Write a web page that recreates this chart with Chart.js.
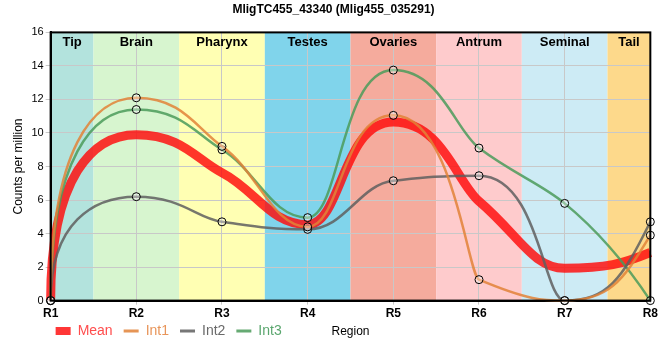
<!DOCTYPE html>
<html>
<head>
<meta charset="utf-8">
<script src="https://cdn.jsdelivr.net/npm/chart.js@4"></script>
<style>
  body { margin: 0; background: #fff; }
  #wrap { width: 660px; height: 360px; }
</style>
</head>
<body>
<div id="wrap"><canvas id="myChart" width="660" height="360"></canvas></div>
<script>
// dados
var labels = ['R1', 'R2', 'R3', 'R4', 'R5', 'R6', 'R7', 'R8'];
var regions = ['Tip', 'Brain', 'Pharynx', 'Testes', 'Ovaries', 'Antrum', 'Seminal', 'Tail'];
var mean = [0, 9.9, 7.63, 4.53, 10.65, 5.93, 1.93, 2.87];
var int1 = [0, 12.1, 9.2, 4.4, 11.05, 1.25, 0, 3.9];
var int2 = [0, 6.2, 4.7, 4.25, 7.15, 7.45, 0, 4.7];
var int3 = [0, 11.4, 9.0, 4.95, 13.75, 9.1, 5.8, 0];
var yTicks = [0, 2, 4, 6, 8, 10, 12, 14, 16];

var regionColors = ['#b3e3dd', '#d7f5cf', '#ffffb3', '#80d4eb', '#f5ab9d', '#fecbcc', '#cdebf5', '#fdd98b'];
var FONT = "'Liberation Sans', Arial, sans-serif";

// fundo com as regioes
var bandsPlugin = {
  id: 'bands',
  afterLayout: function (chart) {
    // legenda um pouco mais para a esquerda/cima, como no original
    chart.legend.left = chart.chartArea.left - 6;
    chart.legend.top = 313;
  },
  beforeDraw: function (chart) {
    var c = chart.ctx, a = chart.chartArea, x = chart.scales.x;
    c.save();
    regions.forEach(function (name, i) {
      var x0 = Math.max(a.left, x.getPixelForValue(i - 0.5));
      var x1 = Math.min(a.right, x.getPixelForValue(i + 0.5));
      c.fillStyle = regionColors[i];
      c.fillRect(x0, a.top, x1 - x0, a.bottom - a.top);
    });
    c.restore();
  },
  afterDraw: function (chart) {
    var c = chart.ctx, a = chart.chartArea, x = chart.scales.x;
    c.save();
    c.font = 'bold 13px ' + FONT;
    c.fillStyle = '#000';
    c.textAlign = 'center';
    c.textBaseline = 'middle';
    regions.forEach(function (name, i) {
      var x0 = Math.max(a.left, x.getPixelForValue(i - 0.5));
      var x1 = Math.min(a.right, x.getPixelForValue(i + 0.5));
      c.fillText(name, (x0 + x1) / 2, a.top + 10);
    });
    // moldura
    c.strokeStyle = '#000';
    c.lineWidth = 2;
    c.strokeRect(a.left, a.top, a.right - a.left, a.bottom - a.top);
    // titulo do eixo x, na mesma linha da legenda
    c.font = '12px ' + FONT;
    c.fillText('Region', (a.left + a.right) / 2, 332);
    c.restore();
  }
};

// curvas com "patamares" nos pontos (pontos de controle proprios)
var curvePlugin = {
  id: 'curves',
  beforeDatasetDraw: function (chart, args) {
    var meta = args.meta, pts = meta.data;
    var v = chart.data.datasets[args.index].data;
    var xs = chart.scales.x, ys = chart.scales.y;
    var n = v.length, d = [], m = [], i;
    for (i = 0; i < n - 1; i++) d.push(v[i + 1] - v[i]);
    for (i = 1; i < n - 1; i++) {
      m[i] = d[i - 1] * d[i] <= 0 ? 0 : 2 / (1 / d[i - 1] + 1 / d[i]);
    }
    m[n - 1] = 2.2 * d[n - 2] - 1.2 * m[n - 2];
    if (m[n - 1] * d[n - 2] < 0) m[n - 1] = 0;
    function base(k) { return m[k] === 0 ? 0.5 : 1 / 3; }
    for (i = 0; i < n - 1; i++) {
      var lo = Math.min(v[i], v[i + 1]), hi = Math.max(v[i], v[i + 1]);
      var s = hi + lo > 0 ? (hi - lo) / (hi + lo) : 0;
      var hA = base(i), hB = base(i + 1);
      if (i > 0 && i < n - 2) {
        if (v[i] > v[i + 1]) { hA += 0.25 * s; hB -= 0.25 * s; }
        else { hA -= 0.25 * s; hB += 0.25 * s; }
      }
      hA = Math.min(0.7, Math.max(0.08, hA));
      hB = Math.min(0.7, Math.max(0.08, hB));
      var ax, ay;
      if (i === 0) { ax = 0; ay = v[0] + 0.75 * d[0]; }
      else { ax = i + hA; ay = v[i] + hA * m[i]; }
      var bx = i + 1 - hB, by = v[i + 1] - hB * m[i + 1];
      ay = Math.min(hi, Math.max(lo, ay));
      by = Math.min(hi, Math.max(lo, by));
      pts[i].cp2x = xs.getPixelForValue(ax);
      pts[i].cp2y = ys.getPixelForValue(ay);
      pts[i + 1].cp1x = xs.getPixelForValue(bx);
      pts[i + 1].cp1y = ys.getPixelForValue(by);
    }
    pts[0].cp1x = pts[0].x; pts[0].cp1y = pts[0].y;
    pts[n - 1].cp2x = pts[n - 1].x; pts[n - 1].cp2y = pts[n - 1].y;
    meta.dataset._pointsUpdated = true;
    meta.dataset._path = undefined;
  }
};

function lineSet(label, data, color, width, marker) {
  return {
    label: label,
    data: data,
    borderColor: color,
    borderWidth: width,
    fill: false,
    cubicInterpolationMode: 'monotone',
    pointRadius: marker ? 4 : 0,
    pointBorderColor: '#000',
    pointBorderWidth: 1,
    pointBackgroundColor: 'rgba(255,255,255,0.35)',
    clip: false
  };
}

var legendColors = ['#ff4d4d', '#e8955a', '#6a6a6a', '#5aa66e'];

var ctx = document.getElementById('myChart');
var myChart = new Chart(ctx, {
  type: 'line',
  data: {
    labels: labels,
    datasets: [
      lineSet('Int1', int1, 'rgba(226,130,55,0.85)', 2.5, true),
      lineSet('Int2', int2, 'rgba(95,95,95,0.85)', 2.5, true),
      lineSet('Int3', int3, 'rgba(75,155,90,0.85)', 2.5, true),
      lineSet('Mean', mean, 'rgba(255,10,10,0.82)', 9, false)
    ]
  },
  plugins: [bandsPlugin, curvePlugin],
  options: {
    responsive: false,
    animation: false,
    layout: { padding: { left: 11, right: 4, top: 0, bottom: 2 } },
    plugins: {
      title: {
        display: true,
        text: 'MligTC455_43340 (Mlig455_035291)',
        color: '#000',
        font: { family: FONT, size: 12, weight: 'bold' },
        padding: { top: 2, bottom: 16 }
      },
      legend: {
        position: 'bottom',
        align: 'start',
        fullSize: false,
        labels: {
          usePointStyle: true,
          pointStyleWidth: 15,
          padding: 11,
          font: { family: FONT, size: 14 },
          generateLabels: function (chart) {
            var order = [3, 0, 1, 2];
            return order.map(function (di, k) {
              var ds = chart.data.datasets[di];
              return {
                text: ds.label,
                datasetIndex: di,
                strokeStyle: ds.borderColor,
                fillStyle: ds.borderColor,
                lineWidth: di === 3 ? 8 : 3,
                pointStyle: 'line',
                fontColor: legendColors[k],
                hidden: false
              };
            });
          }
        }
      },
      tooltip: { enabled: false }
    },
    scales: {
      x: {
        grid: { color: '#c8c8c8', tickLength: 4, drawOnChartArea: true },
        border: { color: '#000', width: 2 },
        ticks: { color: '#000', font: { family: FONT, size: 12, weight: 'bold' }, padding: 2 }
      },
      y: {
        min: 0,
        max: 16,
        afterBuildTicks: function (axis) {
          axis.ticks = yTicks.map(function (v) { return { value: v }; });
        },
        grid: { color: '#c8c8c8', tickLength: 5 },
        border: { color: '#000', width: 2 },
        ticks: { color: '#000', font: { family: FONT, size: 11 }, padding: 2 },
        title: {
          display: true,
          text: 'Counts per million',
          color: '#000',
          font: { family: FONT, size: 12 },
          padding: { top: 0, bottom: 4 }
        }
      }
    }
  }
});
</script>
</body>
</html>
